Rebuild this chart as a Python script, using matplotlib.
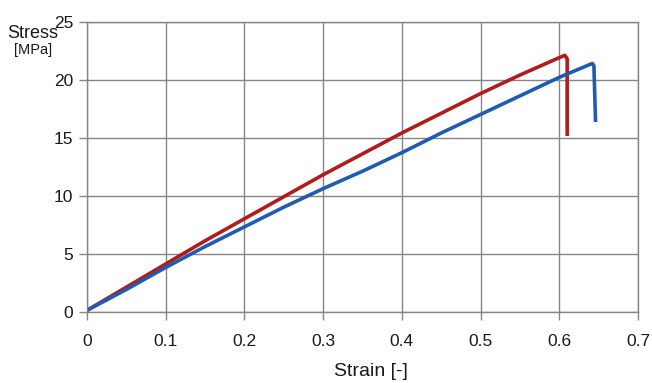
import matplotlib
matplotlib.use("Agg")
import matplotlib.pyplot as plt

red_strain = [0.0, 0.05, 0.1, 0.15, 0.2, 0.25, 0.3, 0.35, 0.4, 0.45, 0.5, 0.55, 0.6, 0.607, 0.610, 0.610]
red_stress = [0.1, 2.1, 4.1, 6.1, 8.0, 9.9, 11.8, 13.6, 15.4, 17.1, 18.8, 20.4, 21.9, 22.1, 21.8, 15.3]

blue_strain = [0.0, 0.05, 0.1, 0.15, 0.2, 0.25, 0.3, 0.35, 0.4, 0.45, 0.5, 0.55, 0.6, 0.642, 0.644, 0.646]
blue_stress = [0.1, 1.9, 3.8, 5.6, 7.3, 9.0, 10.6, 12.1, 13.7, 15.4, 17.0, 18.6, 20.2, 21.4, 21.2, 16.5]

x_ticks = [0, 0.1, 0.2, 0.3, 0.4, 0.5, 0.6, 0.7]
x_labels = ["0", "0.1", "0.2", "0.3", "0.4", "0.5", "0.6", "0.7"]
y_ticks = [0, 5, 10, 15, 20, 25]

plt.rcParams['font.family'] = ['Liberation Sans', 'DejaVu Sans']

fig = plt.figure(figsize=(6.52, 3.83), dpi=100)
ax = fig.add_axes([87/652, 1-311.5/383, (638-87)/652, (311.5-21.7)/383])

grid_c = '#858585'
ax.set_xlim(0, 0.7)
ax.set_ylim(0, 25)
ax.set_xticks(x_ticks)
ax.set_xticklabels(x_labels)
ax.set_yticks(y_ticks)
ax.grid(True, color=grid_c, linewidth=1.0)
ax.set_axisbelow(True)
for s in ax.spines.values():
    s.set_color(grid_c)
    s.set_linewidth(1.0)
ax.tick_params(axis='both', colors=grid_c, length=6, width=1.0, labelsize=12.5, labelcolor='#1a1a1a')
ax.tick_params(axis='x', pad=10)
ax.tick_params(axis='y', pad=4)

ax.plot(red_strain, red_stress, color='#b01c1c', linewidth=2.6, solid_joinstyle='round')
ax.plot(blue_strain, blue_stress, color='#1f5cb0', linewidth=2.6, solid_joinstyle='round')

fig.text(371/652, 1-372/383, "Strain [-]", ha='center', va='center', fontsize=14, color='#1a1a1a')
fig.text(33/652, 1-34/383, "Stress", ha='center', va='center', fontsize=13, color='#1a1a1a')
fig.text(33/652, 1-50/383, "[MPa]", ha='center', va='center', fontsize=10.5, color='#1a1a1a')

fig.savefig("out.png", dpi=100)
